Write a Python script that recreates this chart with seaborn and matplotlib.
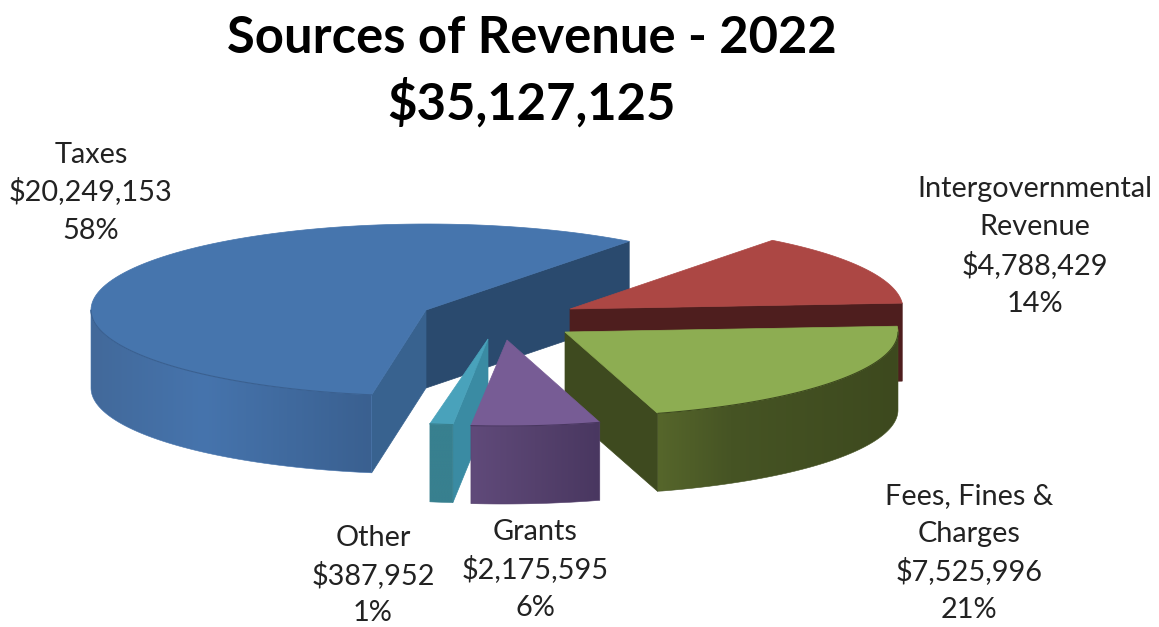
import numpy as np
import matplotlib.pyplot as plt
from matplotlib.colors import LinearSegmentedColormap
from matplotlib.patches import Polygon
import seaborn as sns

# chart data
title_lines = ["Sources of Revenue - 2022", "$35,127,125"]
names = [["Taxes"], ["Other"], ["Grants"], ["Fees, Fines &", "Charges"], ["Intergovernmental", "Revenue"]]
values = [20249153, 387952, 2175595, 7525996, 4788429]

# look of each slice, same order as values
top_colors = ["#4675AD", "#49A2BB", "#775C95", "#8DAD52", "#AC4744"]
side_left = ["#42699A", "#38808F", "#604A7A", "#56662B", "#7A2A2A"]
side_mid = ["#4674AD", "#38808F", "#55416D", "#465424", "#7A2A2A"]
side_right = ["#3A6090", "#38808F", "#493760", "#3D491E", "#7A2A2A"]
mid_pos = [0.4, 0.5, 0.5, 0.3, 0.5]

# arc centre, tip of the slice (pixels), radii of the ellipse
arc_centers = [(427, 310), (485, 339), (503, 340), (560, 332), (575, 309)]
tips = [(426, 310), (488, 339), (507, 340), (565, 332), (570, 309)]
radius_x = [336, 335, 335, 338, 328]
radius_y = [86, 86, 86, 85, 86]
depth = 78

# visible cut faces: slice -> (which edge, colour)
cut_faces = {
    0: [(0, "#2A4A6E"), (1, "#38628F")],
    1: [(1, "#3A8BA3")],
    3: [(0, "#3E4A1F")],
    4: [(0, "#4E1E1E")],
}
draw_order = [0, 4, 3, 1, 2]

# label centre x and the baseline of each of its lines
label_x = [91, 373, 535, 969, 1035]
label_baselines = [
    [163, 200, 239],
    [546, 584, 621],
    [540, 578, 616],
    [504, 542, 580, 618],
    [197, 235, 274, 312],
]

sns.set_theme(style="white")
plt.rcParams["font.family"] = ["Lato", "DejaVu Sans"]

fig, ax = plt.subplots(figsize=(11.59, 6.27), dpi=100)
fig.subplots_adjust(0, 0, 1, 1)

palette = sns.color_palette(top_colors)
total = sum(values)
shares = np.array(values) / total
edges = 53 + np.concatenate([[0], np.cumsum(shares) * 360])
z = 2


def arc_points(i, a, b, n=60):
    t = np.radians(np.linspace(a, b, n))
    cx, cy = arc_centers[i]
    return np.column_stack([cx + radius_x[i] * np.cos(t), cy - radius_y[i] * np.sin(t)])


def draw_slice(i):
    global z
    a, b = edges[i], edges[i + 1]
    # cut faces first, they sit behind the rim
    for which, col in cut_faces.get(i, []):
        corner = arc_points(i, a, a, 1)[0] if which == 0 else arc_points(i, b, b, 1)[0]
        tip = tips[i]
        pts = [tip, corner, (corner[0], corner[1] + depth), (tip[0], tip[1] + depth)]
        ax.add_patch(Polygon(pts, closed=True, fc=col, ec=col, lw=0.5, zorder=z))
        z += 1

    # rim, only the front half of the ellipse shows
    lo, hi = max(a, 180), min(b, 360)
    if lo < hi:
        pts = arc_points(i, lo, hi, 80)
        outline = np.vstack([pts, pts[::-1] + [0, depth]])
        x0, x1 = pts[:, 0].min(), pts[:, 0].max()
        y0, y1 = pts[:, 1].min(), pts[:, 1].max() + depth
        cmap = LinearSegmentedColormap.from_list(
            "rim", [(0, side_left[i]), (mid_pos[i], side_mid[i]), (1, side_right[i])])
        img = ax.imshow(np.linspace(0, 1, 256)[None, :], cmap=cmap, extent=(x0, x1, y1, y0),
                        aspect="auto", zorder=z)
        clip = Polygon(outline, closed=True, transform=ax.transData)
        img.set_clip_path(clip)
        z += 1
        ax.add_patch(Polygon(outline, closed=True, fill=False, ec=side_mid[i], lw=0.4, zorder=z))
        z += 1

    # top face
    arc = arc_points(i, a, b, 120)
    ax.add_patch(Polygon(np.vstack([[tips[i]], arc]), closed=True, fc=palette[i], ec=palette[i], lw=0.5, zorder=z))
    z += 1
    if lo < hi:
        rim_line = arc_points(i, lo, hi, 80)
        ax.plot(rim_line[:, 0], rim_line[:, 1], color=side_right[i], lw=0.8, zorder=z)
        z += 1


for i in draw_order:
    draw_slice(i)

ax.set_xlim(0, 1159)
ax.set_ylim(627, 0)
ax.set_axis_off()

# title
for line, y in zip(title_lines, [53, 120]):
    ax.text(532, y, line, ha="center", va="baseline", fontsize=36.5, fontweight="bold", color="black", zorder=z)

# slice labels, one text per line so the baselines stay evenly spaced
for i, name in enumerate(names):
    lines = name + [f"${values[i]:,}", f"{shares[i] * 100:.0f}%"]
    for line, y in zip(lines, label_baselines[i]):
        ax.text(label_x[i], y, line, ha="center", va="baseline", fontsize=20.8, color="#222222", zorder=z)

fig.savefig("out.png", dpi=100)
